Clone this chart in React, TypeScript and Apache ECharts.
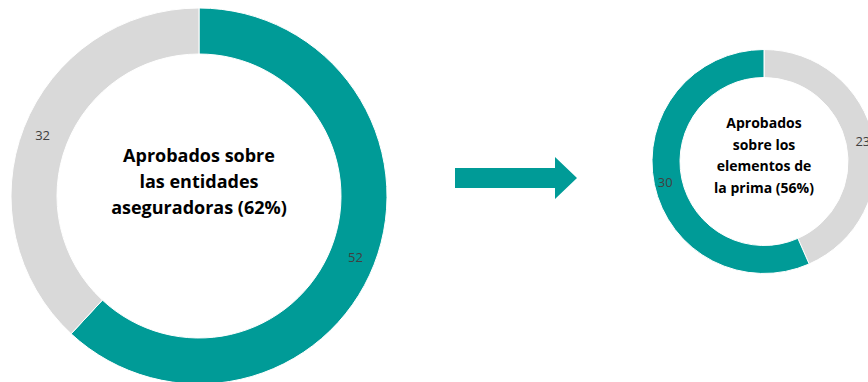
import React, { useEffect, useRef } from "react";
import * as echarts from "echarts";

const leftCategories = ["Aprobados", "Resto"];
const leftValues = [52, 32];
const rightCategories = ["Resto", "Aprobados"];
const rightValues = [23, 30];
const leftTitle = "Aprobados sobre\nlas entidades\naseguradoras (62%)";
const rightTitle = "Aprobados\nsobre los\nelementos de\nla prima (56%)";

const TEAL = "#009B97";
const GREY = "#D9D9D9";

export default function App() {
  const ref = useRef<HTMLDivElement>(null);
  useEffect(() => {
    if (!ref.current) return;
    const chart = echarts.init(ref.current, null, { renderer: "svg" });
    const label = {
      show: true,
      position: "inside",
      formatter: "{c}",
      color: "#404040",
      fontSize: 13,
      fontFamily: "Open Sans",
    };
    chart.setOption({
      animation: false,
      backgroundColor: "#ffffff",
      series: [
        {
          type: "pie",
          center: [199, 196],
          radius: [142, 188],
          startAngle: 90,
          clockwise: true,
          label,
          labelLine: { show: false },
          emphasis: { disabled: true },
          itemStyle: { borderColor: "#ffffff", borderWidth: 1 },
          data: leftCategories.map((n, i) => ({
            name: n,
            value: leftValues[i],
            itemStyle: { color: i === 0 ? TEAL : GREY },
          })),
        },
        {
          type: "pie",
          center: [764, 161.5],
          radius: [84, 112],
          startAngle: 90,
          clockwise: true,
          label,
          labelLine: { show: false },
          emphasis: { disabled: true },
          itemStyle: { borderColor: "#ffffff", borderWidth: 1 },
          data: rightCategories.map((n, i) => ({
            name: n,
            value: rightValues[i],
            itemStyle: { color: i === 0 ? GREY : TEAL },
          })),
        },
      ],
      graphic: [
        {
          type: "text",
          x: 199,
          y: 181,
          style: {
            text: leftTitle,
            textAlign: "center",
            textVerticalAlign: "middle",
            font: "bold 18px 'Open Sans'",
            lineHeight: 26,
            fill: "#000000",
          },
        },
        {
          type: "text",
          x: 764,
          y: 155,
          style: {
            text: rightTitle,
            textAlign: "center",
            textVerticalAlign: "middle",
            font: "bold 14px 'Open Sans'",
            lineHeight: 21.5,
            fill: "#000000",
          },
        },
        {
          type: "polygon",
          shape: {
            points: [
              [455, 168],
              [555, 168],
              [555, 157],
              [577, 178],
              [555, 199],
              [555, 188],
              [455, 188],
            ],
          },
          style: { fill: TEAL },
        },
      ],
    });
    return () => chart.dispose();
  }, []);
  return (
    <div
      ref={ref}
      style={{ position: "absolute", left: 0, top: 0, width: 868, height: 382 }}
    />
  );
}
